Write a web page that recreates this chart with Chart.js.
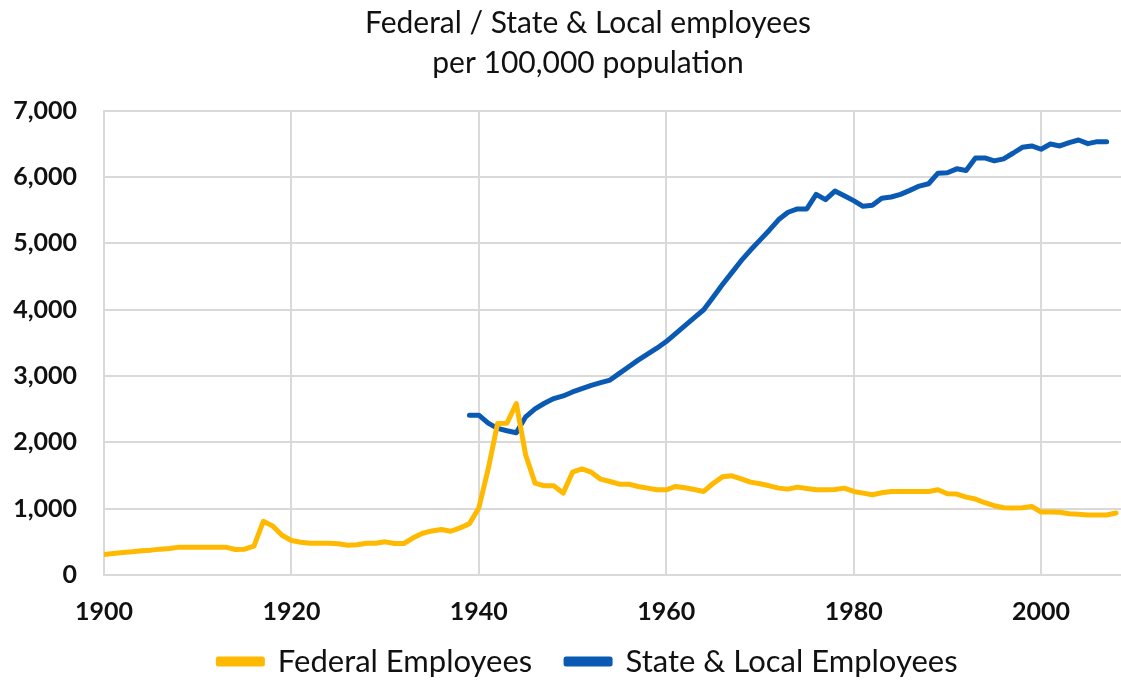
<!DOCTYPE html>
<html>
<head>
<meta charset="utf-8">
<script src="https://cdn.jsdelivr.net/npm/chart.js@4/dist/chart.umd.min.js"></script>
<style>
  html, body { margin: 0; padding: 0; background: #fff; overflow: hidden; }
  #wrap { width: 1176px; height: 687px; }
</style>
</head>
<body>
<div id="wrap"><canvas id="empChart" width="1176" height="687"></canvas></div>
<script>
// values, per 100,000 population
const years = [
  1900, 1901, 1902, 1903, 1904, 1905, 1906, 1907, 1908, 1909,
  1910, 1911, 1912, 1913, 1914, 1915, 1916, 1917, 1918, 1919,
  1920, 1921, 1922, 1923, 1924, 1925, 1926, 1927, 1928, 1929,
  1930, 1931, 1932, 1933, 1934, 1935, 1936, 1937, 1938, 1939,
  1940, 1941, 1942, 1943, 1944, 1945, 1946, 1947, 1948, 1949,
  1950, 1951, 1952, 1953, 1954, 1955, 1956, 1957, 1958, 1959,
  1960, 1961, 1962, 1963, 1964, 1965, 1966, 1967, 1968, 1969,
  1970, 1971, 1972, 1973, 1974, 1975, 1976, 1977, 1978, 1979,
  1980, 1981, 1982, 1983, 1984, 1985, 1986, 1987, 1988, 1989,
  1990, 1991, 1992, 1993, 1994, 1995, 1996, 1997, 1998, 1999,
  2000, 2001, 2002, 2003, 2004, 2005, 2006, 2007, 2008
];

const federal = [
  310, 325, 340, 350, 365, 375, 390, 400, 420, 420,
  420, 420, 420, 420, 385, 390, 435, 810, 740, 600,
  520, 495, 480, 480, 480, 470, 450, 455, 480, 480,
  500, 475, 475, 560, 630, 665, 685, 660, 710, 775,
  1010, 1600, 2285, 2290, 2585, 1810, 1385, 1345, 1345, 1235,
  1550, 1600, 1550, 1445, 1410, 1370, 1370, 1335, 1310, 1285,
  1285, 1335, 1315, 1290, 1260, 1380, 1480, 1495, 1450, 1400,
  1375, 1345, 1310, 1295, 1325, 1305, 1285, 1285, 1290, 1310,
  1260, 1235, 1210, 1240, 1260, 1260, 1260, 1260, 1260, 1285,
  1225, 1220, 1175, 1145, 1090, 1045, 1015, 1010, 1015, 1035,
  950, 950, 945, 925, 915, 905, 905, 905, 935
];

const stateLocal = [
  null, null, null, null, null, null, null, null, null, null,
  null, null, null, null, null, null, null, null, null, null,
  null, null, null, null, null, null, null, null, null, null,
  null, null, null, null, null, null, null, null, null, 2410,
  2410, 2290, 2210, 2175, 2145, 2385, 2505, 2590, 2660, 2700,
  2760, 2810, 2860, 2900, 2940, 3040, 3140, 3240, 3330, 3420,
  3520, 3640, 3760, 3880, 4000, 4190, 4380, 4560, 4740, 4900,
  5050, 5200, 5360, 5470, 5520, 5520, 5740, 5660, 5790, 5720,
  5645, 5560, 5575, 5680, 5700, 5740, 5800, 5865, 5900, 6060,
  6065, 6125, 6100, 6290, 6290, 6245, 6275, 6360, 6450, 6470,
  6420, 6500, 6470, 6520, 6560, 6505, 6535, 6535, null
];

const yTicks = [0, 1000, 2000, 3000, 4000, 5000, 6000, 7000];

const fontFamily = "Lato, 'Open Sans', sans-serif";
const gridColor = '#d9d9d9';

function toPoints(vals) {
  return years.map((yr, i) => ({ x: yr, y: vals[i] }));
}

const ctx = document.getElementById('empChart').getContext('2d');

const empChart = new Chart(ctx, {
    type: 'line',
    data: {
        datasets: [
            {
                label: 'Federal Employees',
                data: toPoints(federal),
                borderColor: '#ffb900',
                backgroundColor: '#ffb900',
                borderWidth: 5,
                pointRadius: 0,
                tension: 0,
                borderJoinStyle: 'round',
                borderCapStyle: 'round'
            },
            {
                label: 'State & Local Employees',
                data: toPoints(stateLocal),
                borderColor: '#0a5ab4',
                backgroundColor: '#0a5ab4',
                borderWidth: 5,
                pointRadius: 0,
                tension: 0,
                borderJoinStyle: 'round',
                borderCapStyle: 'round'
            }
        ]
    },
    options: {
        responsive: false,
        animation: false,
        layout: { padding: 0 },
        plugins: {
            title: {
                display: true,
                text: ['Federal / State & Local employees', 'per 100,000 population'],
                color: '#111',
                font: { family: fontFamily, size: 30, weight: 'normal', lineHeight: 1.33 },
                padding: { top: 3, bottom: 28 }
            },
            legend: {
                position: 'bottom',
                labels: {
                    color: '#111',
                    font: { family: fontFamily, size: 31 },
                    boxWidth: 44,
                    boxHeight: 5,
                    padding: 10,
                    // wider gap after the first entry, like the original
                    generateLabels: (chart) => {
                        const items = Chart.defaults.plugins.legend.labels.generateLabels(chart);
                        if (items.length) items[0].text += '   ';
                        return items;
                    }
                }
            },
            tooltip: { enabled: false }
        },
        scales: {
            x: {
                type: 'linear',
                min: 1900,
                max: 2014.4,
                afterFit: (s) => { s.height = 61; },
                grid: { color: gridColor, lineWidth: 2, drawTicks: false },
                border: { color: gridColor, width: 2 },
                ticks: {
                    stepSize: 20,
                    includeBounds: false,
                    padding: 22,
                    color: '#111',
                    font: { family: fontFamily, size: 25, weight: 'bold' },
                    maxRotation: 0,
                    callback: (v) => String(v)
                }
            },
            y: {
                min: yTicks[0],
                max: yTicks[yTicks.length - 1],
                afterFit: (s) => { s.width = 104; },
                afterBuildTicks: (s) => { s.ticks = yTicks.map(v => ({ value: v })); },
                grid: { color: gridColor, lineWidth: 2, drawTicks: false },
                border: { color: gridColor, width: 2 },
                ticks: {
                    padding: 27,
                    color: '#111',
                    font: { family: fontFamily, size: 25, weight: 'bold' },
                    callback: (v) => v.toLocaleString('en-US')
                }
            }
        }
    }
});
</script>
</body>
</html>
